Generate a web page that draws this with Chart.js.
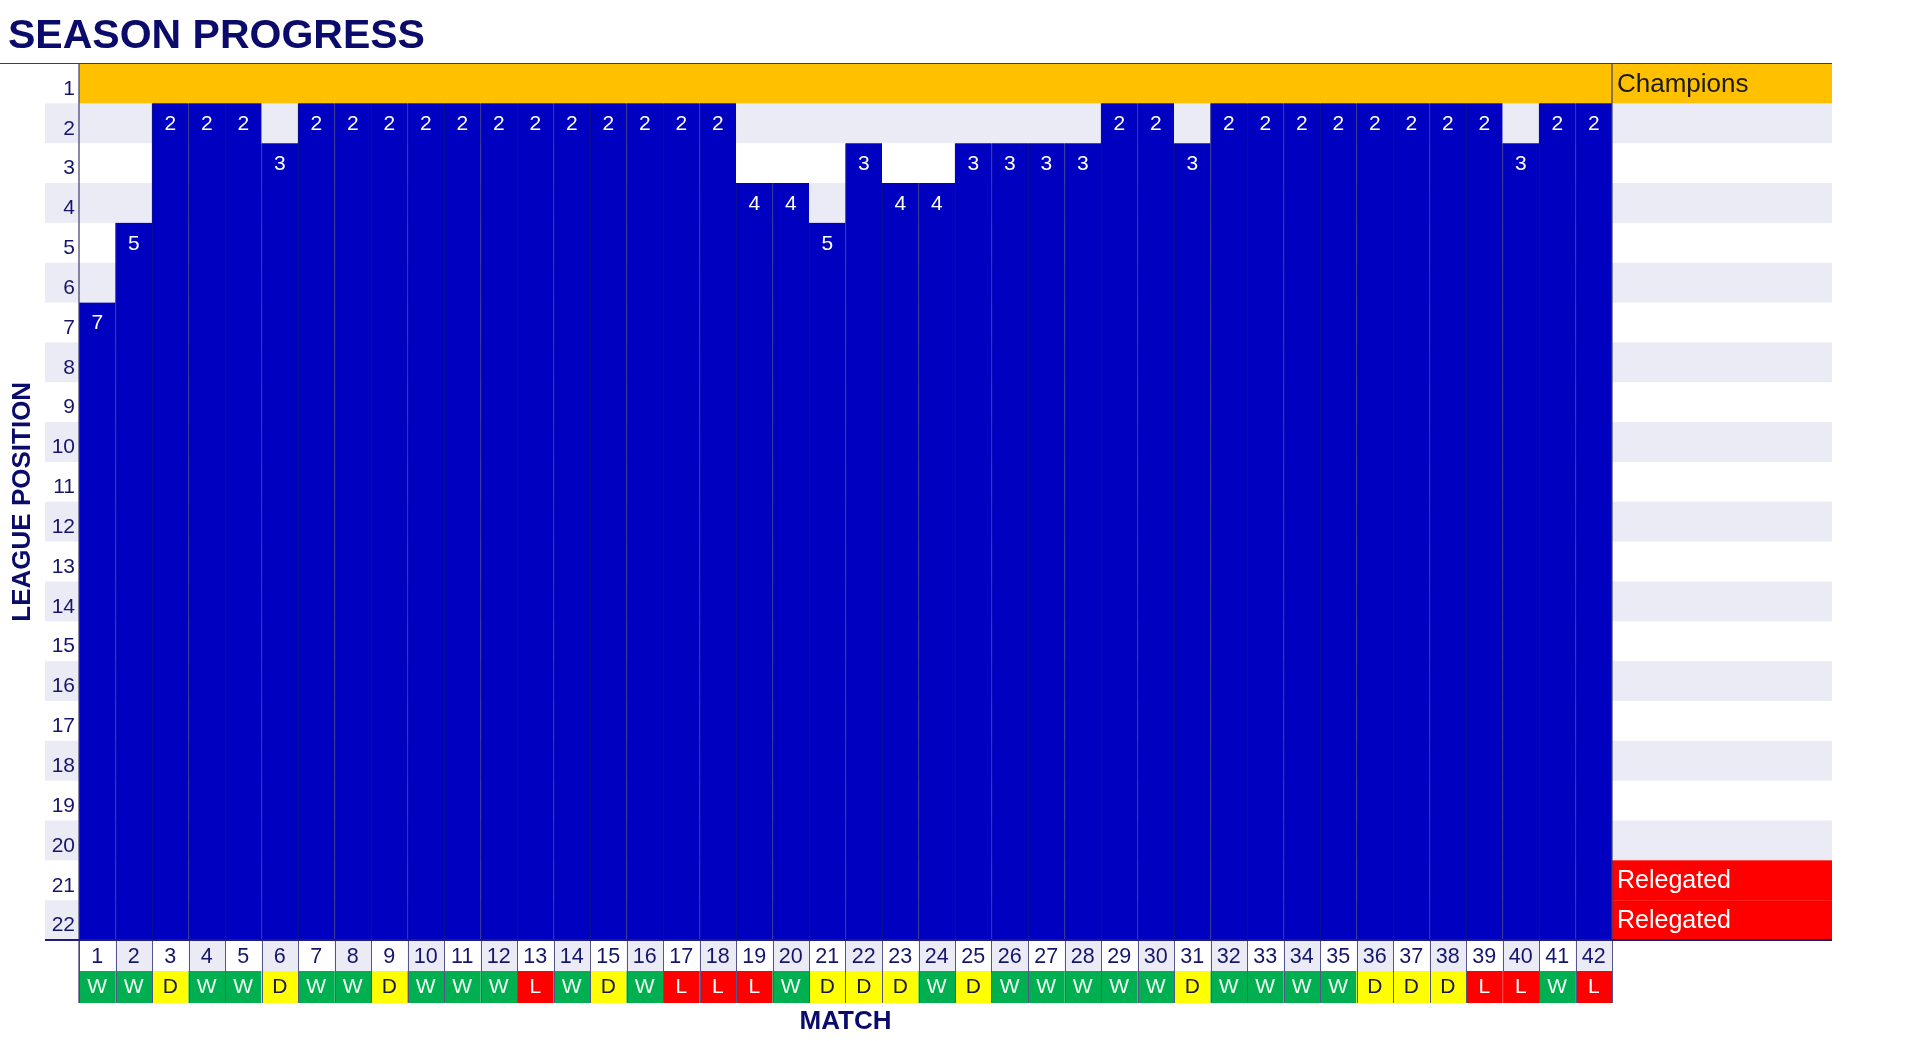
<!DOCTYPE html>
<html>
<head>
<meta charset="utf-8">
<script src="https://cdn.jsdelivr.net/npm/chart.js@4.4.0/dist/chart.umd.min.js"></script>
<style>
html,body{margin:0;padding:0;background:#fff;overflow:hidden}
#wrap{width:1920px;height:1041px;position:relative}
</style>
</head>
<body>
<div id="wrap"><canvas id="c" width="1920" height="1041"></canvas></div>
<script>
// ---------- DATA ----------
const chartTitle = 'SEASON PROGRESS';
const xTitle = 'MATCH';
const yTitle = 'LEAGUE POSITION';
const matches = ['1','2','3','4','5','6','7','8','9','10','11','12','13','14','15','16','17','18','19','20','21','22','23','24','25','26','27','28','29','30','31','32','33','34','35','36','37','38','39','40','41','42'];
const positions = [7,5,2,2,2,3,2,2,2,2,2,2,2,2,2,2,2,2,4,4,5,3,4,4,3,3,3,3,2,2,3,2,2,2,2,2,2,2,2,3,2,2];
const results = ['W','W','D','W','W','D','W','W','D','W','W','W','L','W','D','W','L','L','L','W','D','D','D','W','D','W','W','W','W','W','D','W','W','W','W','D','D','D','L','L','W','L'];
const positionTicks = [1,2,3,4,5,6,7,8,9,10,11,12,13,14,15,16,17,18,19,20,21,22];
const zoneRows = [1,21,22];
const zoneNames = ['Champions','Relegated','Relegated'];

// ---------- STYLE ----------
const NAVY = '#0b0b6b';
const LAV = '#ebebf5';
const ORANGE = '#ffc000';
const RED = '#ff0000';
const BLUE = '#0000c0';
const resultFill = {W:'#00b050', D:'#ffff00', L:'#ff0000'};
const resultText = {W:'#f2fff6', D:'#1a1a4a', L:'#ffffff'};
const FONT = "'Liberation Sans', Arial, sans-serif";
const L = {top:63.5, right:308, yAxisW:79, xAxisH:101, stripeLeft:45, legendW:220, numRowH:31, resRowH:32};

const decor = {
  id:'decor',
  beforeDraw(chart){
    const {ctx, chartArea:a, scales:{x, y}} = chart;
    const legRight = a.right + L.legendW;
    const rowH = Math.abs(y.getPixelForValue(2) - y.getPixelForValue(1));
    ctx.save();
    ctx.fillStyle = '#fff';
    ctx.fillRect(0,0,chart.width,chart.height);
    positionTicks.forEach(p => {
      const yc = y.getPixelForValue(p);
      if (p % 2 === 0) {
        ctx.fillStyle = LAV;
        ctx.fillRect(L.stripeLeft, yc - rowH/2, legRight - L.stripeLeft, rowH);
      }
    });
    zoneRows.forEach((p, i) => {
      const yc = y.getPixelForValue(p);
      const champ = zoneNames[i] === 'Champions';
      ctx.fillStyle = champ ? ORANGE : RED;
      const x0 = champ ? a.left : a.right;
      ctx.fillRect(x0, yc - rowH/2, legRight - x0, rowH);
    });
    const colW = x.getPixelForValue(1) - x.getPixelForValue(0);
    matches.forEach((m, i) => {
      const xc = x.getPixelForValue(i);
      ctx.fillStyle = (i % 2 === 1) ? LAV : '#fff';
      ctx.fillRect(xc - colW/2, a.bottom, colW, L.numRowH);
      ctx.fillStyle = resultFill[results[i]];
      ctx.fillRect(xc - colW/2, a.bottom + L.numRowH, colW, L.resRowH);
    });
    ctx.restore();
  },
  afterDraw(chart){
    const {ctx, chartArea:a, scales:{x, y}} = chart;
    const legRight = a.right + L.legendW;
    const colW = x.getPixelForValue(1) - x.getPixelForValue(0);
    const cellBottom = a.bottom + L.numRowH + L.resRowH;
    ctx.save();
    ctx.strokeStyle = '#55558a';
    ctx.lineWidth = 1;
    matches.forEach((m, i) => {
      const xl = Math.round(x.getPixelForValue(i) - colW/2) + 0.5;
      ctx.beginPath(); ctx.moveTo(xl, a.bottom); ctx.lineTo(xl, cellBottom); ctx.stroke();
    });
    const xr = Math.round(a.right) + 0.5;
    ctx.beginPath(); ctx.moveTo(xr, a.bottom); ctx.lineTo(xr, cellBottom); ctx.stroke();
    ctx.strokeStyle = '#3c3c6c';
    ctx.lineWidth = 1.2;
    ctx.beginPath(); ctx.moveTo(0, a.top); ctx.lineTo(legRight, a.top); ctx.stroke();
    ctx.beginPath(); ctx.moveTo(a.left, a.top); ctx.lineTo(a.left, cellBottom); ctx.stroke();
    ctx.beginPath(); ctx.moveTo(a.right, a.top); ctx.lineTo(a.right, a.bottom); ctx.stroke();
    ctx.strokeStyle = '#1e1e78';
    ctx.lineWidth = 2;
    ctx.beginPath(); ctx.moveTo(L.stripeLeft, a.bottom); ctx.lineTo(legRight, a.bottom); ctx.stroke();
    // data labels
    const meta = chart.getDatasetMeta(0);
    ctx.fillStyle = '#ffffff';
    ctx.font = '21px ' + FONT;
    ctx.textAlign = 'center';
    ctx.textBaseline = 'middle';
    meta.data.forEach((bar, i) => {
      ctx.fillText(String(positions[i]), bar.x, y.getPixelForValue(positions[i]) + 1);
    });
    // results
    matches.forEach((m, i) => {
      ctx.fillStyle = resultText[results[i]];
      ctx.fillText(results[i], x.getPixelForValue(i), a.bottom + L.numRowH + L.resRowH/2);
    });
    // zone labels
    ctx.textAlign = 'left';
    zoneRows.forEach((p, i) => {
      const champ = zoneNames[i] === 'Champions';
      ctx.fillStyle = champ ? '#1a1a1a' : '#ffffff';
      ctx.font = (champ ? '26px ' : '25px ') + FONT;
      ctx.fillText(zoneNames[i], a.right + 5, y.getPixelForValue(p) + 1);
    });
    // title
    ctx.fillStyle = NAVY;
    ctx.font = 'bold 41px ' + FONT;
    ctx.textBaseline = 'alphabetic';
    ctx.fillText(chartTitle, 8, 48);
    ctx.restore();
  }
};

new Chart(document.getElementById('c'), {
  type: 'bar',
  data: {
    labels: matches,
    datasets: [{
      data: positions.map(p => [p - 0.5, positionTicks[positionTicks.length - 1] + 0.5]),
      backgroundColor: BLUE,
      borderColor: '#14147a',
      borderWidth: {left:1, right:0, top:0, bottom:0},
      borderSkipped: false,
      barPercentage: 1,
      categoryPercentage: 1
    }]
  },
  options: {
    responsive: false,
    animation: false,
    devicePixelRatio: 1,
    layout: {padding: {top: L.top, right: L.right, left: 0, bottom: 0}},
    plugins: {legend: {display: false}, tooltip: {enabled: false}},
    scales: {
      x: {
        type: 'category',
        offset: true,
        grid: {display: false, drawTicks: false},
        border: {display: false},
        ticks: {color: '#15156b', font: {family: FONT, size: 21.5}, padding: 4.5, maxRotation: 0, autoSkip: false},
        title: {display: true, text: xTitle, color: NAVY, font: {family: FONT, size: 26, weight: 'bold'}, padding: {top: 0, bottom: 4}},
        afterFit: s => { s.height = L.xAxisH; }
      },
      y: {
        type: 'linear',
        reverse: true,
        min: positionTicks[0] - 0.5,
        max: positionTicks[positionTicks.length - 1] + 0.5,
        grid: {display: false, drawTicks: false},
        border: {display: false},
        afterBuildTicks: s => { s.ticks = positionTicks.map(v => ({value: v})); },
        ticks: {color: '#15156b', font: {family: FONT, size: 21}, padding: 4, labelOffset: 5.5, callback: v => String(v)},
        title: {display: true, text: yTitle, color: NAVY, font: {family: FONT, size: 26, weight: 'bold'}, padding: {top: 7, bottom: 0}},
        afterFit: s => { s.width = L.yAxisW; }
      }
    }
  },
  plugins: [decor]
});
</script>
</body>
</html>
